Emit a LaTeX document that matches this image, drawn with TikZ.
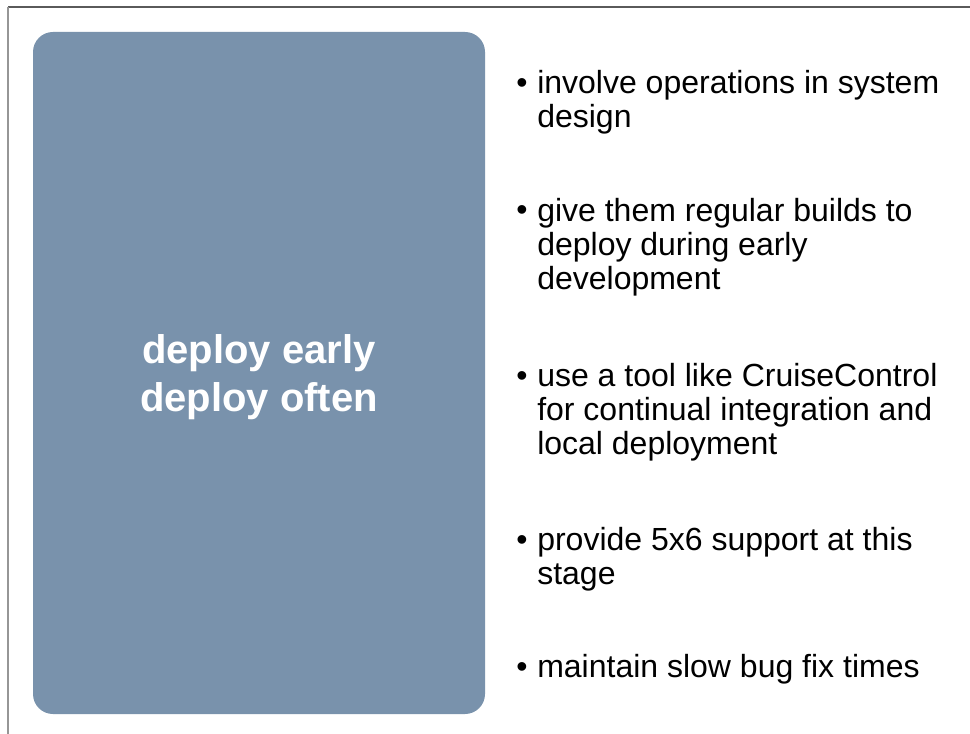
\documentclass[tikz,border=0pt]{standalone}
\usepackage{fontspec}
\setmainfont{Liberation Sans}
\definecolor{panel}{RGB}{121,146,172}
\definecolor{topline}{RGB}{90,90,90}
\definecolor{leftline}{RGB}{150,150,150}
\begin{document}
\begin{tikzpicture}[x=0.75pt,y=-0.75pt,
  item/.style={anchor=base west, inner sep=0pt, align=left, text=black,
    font=\fontsize{24}{25.5}\selectfont},
  bul/.style={anchor=base, inner sep=0pt, text=black, font=\fontsize{24}{25.5}\selectfont},
  title/.style={anchor=base, inner sep=0pt, align=center, text=white,
    font=\fontsize{30}{36}\selectfont\bfseries},
  panelbox/.style={fill=panel, rounded corners=15pt}]
\useasboundingbox (0,0) rectangle (970,734);
\fill[white] (0,0) rectangle (970,734);
\draw[topline, line width=0.9pt] (8,7) -- (970,7);
\draw[leftline, line width=0.9pt] (8,7) -- (8,734);
\fill[panelbox] (33,32) rectangle (485,714);
% multi-line nodes: base anchor = baseline of the last line
\node[title] (t) at (259,411) {deploy early\\deploy often};
\node[bul] (b1) at (522,94) {•};
\node[item] (i1) at (537,128) {involve operations in system\\design};
\node[bul] (b2) at (522,221) {•};
\node[item] (i2) at (537,289) {give them regular builds to\\deploy during early\\development};
\node[bul] (b3) at (522,386) {•};
\node[item] (i3) at (537,454) {use a tool like CruiseControl\\for continual integration and\\local deployment};
\node[bul] (b4) at (522,550) {•};
\node[item] (i4) at (537,584) {provide 5x6 support at this\\stage};
\node[bul] (b5) at (522,677) {•};
\node[item] (i5) at (537,677) {maintain slow bug fix times};
\end{tikzpicture}
\end{document}
